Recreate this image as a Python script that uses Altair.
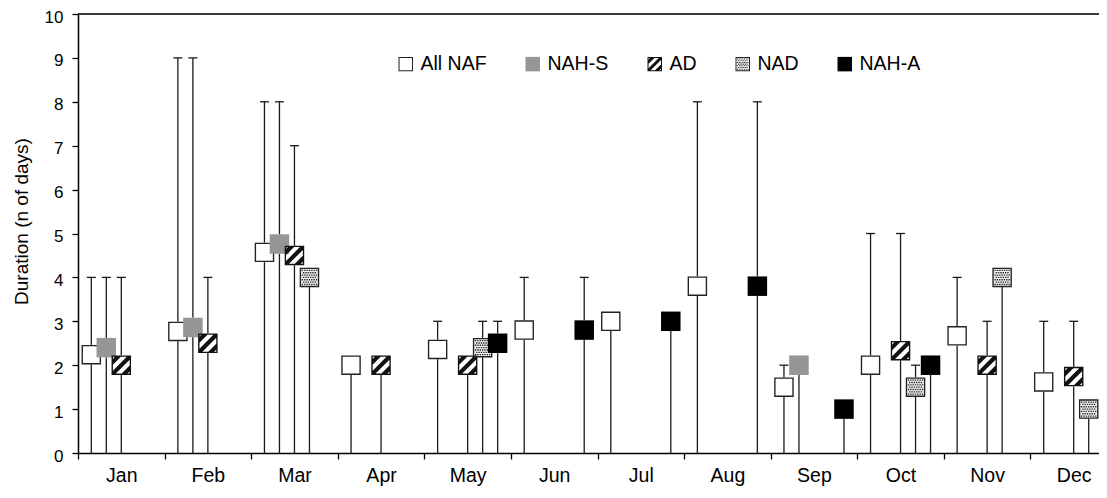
import altair as alt
import pandas as pd

# ---------------- data ----------------
months = ["Jan", "Feb", "Mar", "Apr", "May", "Jun", "Jul", "Aug", "Sep", "Oct", "Nov", "Dec"]
series = ["All NAF", "NAH-S", "AD", "NAD", "NAH-A"]

all_naf_mean = [2.24, 2.77, 4.57, 2.0, 2.36, 2.8, 3.0, 3.8, 1.5, 2.0, 2.67, 1.62]
all_naf_max = [4, 9, 8, 2.0, 3, 4, 3.0, 8, 2, 5, 4, 3]

nah_s_mean = [2.4, 2.86, 4.76, None, None, None, None, None, 2.0, None, None, None]
nah_s_max = [4, 9, 8, None, None, None, None, None, 2.0, None, None, None]

ad_mean = [2.0, 2.5, 4.5, 2.0, 2.0, None, None, None, None, 2.33, 2.0, 1.74]
ad_max = [4, 4, 7, 2.0, 2.0, None, None, None, None, 5, 3, 3]

nad_mean = [None, None, 4.0, None, 2.4, None, None, None, None, 1.5, 4.0, 1.0]
nad_max = [None, None, 4.0, None, 3, None, None, None, None, 2, 4.0, 1.0]

nah_a_mean = [None, None, None, None, 2.5, 2.8, 3.0, 3.8, 1.0, 2.0, None, None]
nah_a_max = [None, None, None, None, 3, 4, 3.0, 8, 1.0, 2.0, None, None]

y_ticks = [0, 1, 2, 3, 4, 5, 6, 7, 8, 9, 10]

means = [all_naf_mean, nah_s_mean, ad_mean, nad_mean, nah_a_mean]
maxes = [all_naf_max, nah_s_max, ad_max, nad_max, nah_a_max]

rows = []
for mi, m in enumerate(months):
    for si, s in enumerate(series):
        mv = means[si][mi]
        if mv is None:
            continue
        rows.append({"month": m, "series": s, "mean": mv, "hi": maxes[si][mi], "lo": 0})
df = pd.DataFrame(rows)

# ---------------- marker shapes (styling) ----------------
def poly(pts):
    return "M" + "L".join(f"{x:.3f},{y:.3f}" for x, y in pts) + "Z"

def clip(pts, f):
    out = []
    n = len(pts)
    for i in range(n):
        a, b = pts[i], pts[(i + 1) % n]
        fa, fb = f(a), f(b)
        if fa >= 0:
            out.append(a)
        if (fa >= 0) != (fb >= 0):
            t = fa / (fa - fb)
            out.append((a[0] + t * (b[0] - a[0]), a[1] + t * (b[1] - a[1])))
    return out

IN = 0.86
outer = poly([(-1, -1), (1, -1), (1, 1), (-1, 1)])
inner_sq = [(-IN, -IN), (IN, -IN), (IN, IN), (-IN, IN)]
frame = outer + poly([(-IN, -IN), (-IN, IN), (IN, IN), (IN, -IN)])

stripes = ""
for c in (-1.2, 0.0, 1.2):
    p = clip(inner_sq, lambda q, c=c: q[0] + q[1] - (c - 0.3))
    p = clip(p, lambda q, c=c: (c + 0.3) - (q[0] + q[1]))
    if len(p) >= 3:
        stripes += poly(p)

dots = ""
d = 0.07
for r in range(7):
    yy = -0.72 + r * 0.24
    for k in range(7):
        xx = -0.72 + k * 0.24 + (0.12 if r % 2 else 0)
        if xx > 0.8:
            continue
        dots += poly([(xx - d, yy - d), (xx + d, yy - d), (xx + d, yy + d), (xx - d, yy + d)])

shape_range = [frame, outer, frame + stripes, frame + dots, outer]
fill_range = ["#222222", "#969696", "#111111", "#222222", "#000000"]
# background squares use a reversed domain so their (hidden) scale is not merged into the legend
base_domain = list(reversed(series))
base_range = ["#ffffff", "#f2f2f2", "#ffffff", "#ffffff", "#ffffff"]

FONT = "Liberation Sans, Arial, sans-serif"
MS = 380
PLOT_W = 1021          # visible part of the plot (page is 1107 wide)
FULL_W = 1039          # full 12-month extent, partly cut off at the right like the original

x_enc = alt.X(
    "month:N",
    sort=months,
    scale=alt.Scale(domain=months, paddingInner=0, paddingOuter=0, range=[0, FULL_W]),
    axis=alt.Axis(
        title=None, labelAngle=0, tickBand="extent", tickSize=6, tickWidth=1.3,
        tickColor="black", domainColor="black", domainWidth=1.5,
        labelFontSize=19.5, labelPadding=7, labelColor="black", labelFont=FONT,
    ),
)
xo_enc = alt.XOffset("series:N", sort=series,
                     scale=alt.Scale(domain=series, paddingInner=0, paddingOuter=0.386))

y_axis = alt.Axis(
    title="Duration (n of days)", values=y_ticks, tickSize=6, tickWidth=1.3,
    tickColor="black", domainColor="black", domainWidth=1.5, grid=False,
    labelFontSize=17, labelPadding=9, labelOffset=3, labelColor="black", labelFont=FONT,
    titleFontSize=19, titleFont=FONT, titleFontWeight="normal", titleColor="black",
    titlePadding=13, titleY=207,
)
y_scale = alt.Scale(domain=[0, 10], nice=False)
Y_TITLE = "Duration (n of days)"

base = alt.Chart(df)

stems = base.mark_rule(color="#1a1a1a", strokeWidth=1.3, opacity=1).encode(
    x=x_enc, xOffset=xo_enc,
    y=alt.Y("hi:Q", scale=y_scale, axis=y_axis, title=Y_TITLE),
    y2="lo:Q",
)
caps = base.mark_tick(orient="horizontal", size=9, thickness=1.3, color="#1a1a1a", opacity=1).encode(
    x=x_enc, xOffset=xo_enc,
    y=alt.Y("hi:Q", scale=y_scale, axis=y_axis, title=Y_TITLE),
)
backs = base.mark_square(size=MS, filled=True, opacity=1, strokeWidth=0).encode(
    x=x_enc, xOffset=xo_enc,
    y=alt.Y("mean:Q", scale=y_scale, axis=y_axis, title=Y_TITLE),
    color=alt.Color("series:N", scale=alt.Scale(domain=base_domain, range=base_range), legend=None),
)

legend = alt.Legend(
    title=None, orient="none", legendX=318, legendY=40, direction="horizontal",
    labelFontSize=19.5, labelFont=FONT, labelColor="black", symbolSize=210,
    columnPadding=36, labelOffset=5, symbolStrokeWidth=0, symbolOpacity=1,
)
symbols = base.mark_point(filled=True, size=MS, opacity=1, strokeWidth=0).encode(
    x=x_enc, xOffset=xo_enc,
    y=alt.Y("mean:Q", scale=y_scale, axis=y_axis, title=Y_TITLE),
    shape=alt.Shape("series:N", sort=series, scale=alt.Scale(domain=series, range=shape_range), legend=legend),
    fill=alt.Fill("series:N", sort=series, scale=alt.Scale(domain=series, range=fill_range), legend=legend),
)

top_line = alt.Chart(pd.DataFrame({"a": [0]})).mark_rule(color="black", strokeWidth=1.5).encode(
    y=alt.datum(10)
)

chart = alt.layer(stems, caps, backs, symbols, top_line).properties(
    width=PLOT_W,
    height=439,
    autosize=alt.AutoSizeParams(type="none"),
    padding={"left": 70, "top": 6, "right": 0, "bottom": 33},
).configure_view(stroke=None).configure(background="white")

chart.save("out.html", embed_options={"renderer": "svg", "actions": False})
